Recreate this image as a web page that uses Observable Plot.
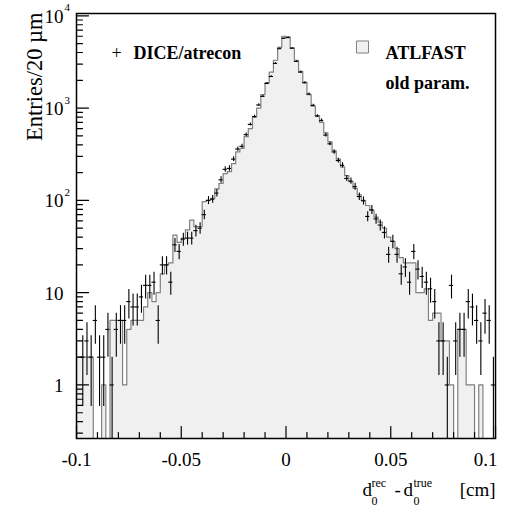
<!DOCTYPE html>
<html><head><meta charset="utf-8">
<script src="https://cdn.jsdelivr.net/npm/d3@7"></script>
<script src="https://cdn.jsdelivr.net/npm/@observablehq/plot@0.6"></script>
<style>
body{margin:0;background:#fff}
svg{font-family:"Liberation Serif","Times New Roman",serif}
</style>
</head><body><div id="chart"></div>
<script>
// ---- data ----
const binStart = -0.1;
const binWidth = 0.002; // 20 µm
// ATLFAST (old param.) histogram, entries per bin (100 bins)
const atlfast = [
  2,2,2,2,0,0,1,0,5,5,
  5,1,4,5,5,5,7,10,8,10,
  16,20,21,42,35,39,48,61,52,52,
  97,100,105,133,153,195,205,250,335,365,
  490,600,800,1000,1400,1880,2450,3300,4550,6000,
  5900,4500,3300,2500,1900,1400,1050,830,700,540,
  430,345,280,230,185,160,135,115,100,88,
  78,66,58,50,40,36,30,24,21,21,
  21,10,10,11,5,6,6,3,3,1,
  0,4,4,1,1,0,1,0,0,0
];
// DICE/atrecon data points, entries per bin
const dice = [
  0,2,3,2,5,2,2,4,1,4,
  5,5,8,7,7,9,12,12,13,5,
  20,20,13,33,28,38,39,39,47,50,
  70,100,103,120,167,217,222,280,360,385,
  515,665,810,1080,1340,1850,2200,3050,4400,5700,
  5800,4450,3200,2450,1880,1420,1070,820,735,510,
  410,335,270,240,173,162,141,110,99,67,
  79,63,54,45,26,36,26,16,19,13,
  28,18,15,13,11,8,3,3,1,12,
  3,4,4,8,7,5,3,6,5,1
];
const xMajorTicks = [-0.1, -0.05, 0, 0.05, 0.1];
const xTickLabels = ["-0.1", "-0.05", "0", "0.05", "0.1"];
const yMajorTicks = [1, 10, 100, 1000, 10000];
const yTickBase = ["1", "10", "10", "10", "10"];
const yTickExp = ["", "", "2", "3", "4"];
const legendLabels = ["DICE/atrecon", "ATLFAST", "old param."];
const yTitle = "Entries/20 µm";

// ---- derived ----
const yMin = 0.263, yMax = 10590;
const nBins = atlfast.length;
const bins = atlfast.map((n, i) => ({x0: binStart + i * binWidth, x1: binStart + (i + 1) * binWidth, n}));
const steps = [{x: binStart, y: yMin}];
bins.forEach(b => { const y = b.n > 0 ? b.n : yMin; steps.push({x: b.x0, y}, {x: b.x1, y}); });
steps.push({x: binStart + nBins * binWidth, y: yMin});
const pts = dice.map((n, i) => ({x0: binStart + i * binWidth, x1: binStart + (i + 1) * binWidth, xc: binStart + (i + 0.5) * binWidth, n})).filter(d => d.n > 0);

const yMinor = [];
for (let e = -1; e <= 3; e++) for (let m = 2; m <= 9; m++) { const v = m * Math.pow(10, e); if (v > yMin && v < yMax) yMinor.push(v); }
const xMinor = d3.range(-10, 11).map(i => i / 100).filter(v => !xMajorTicks.some(t => Math.abs(t - v) < 1e-9));

const tickShape = {draw(context, l) { context.moveTo(0, 0); context.lineTo(0, -l); }};
const yLabels = yMajorTicks.map((v, i) => ({v, base: yTickBase[i], exp: yTickExp[i]}));
// last label is pulled inside the canvas as in the original
const xLabels = xMajorTicks.map((v, i) => ({v, label: xTickLabels[i], shift: i === xMajorTicks.length - 1 ? -10 : 0}));

const chart = Plot.plot({
  width: 510, height: 518,
  marginLeft: 76, marginRight: 15, marginTop: 13, marginBottom: 80,
  x: {domain: [-0.1, 0.1], axis: null},
  y: {type: "log", domain: [yMin, yMax], axis: null},
  marks: [
    Plot.areaY(steps, {x: "x", y1: () => yMin, y2: "y", fill: "#f0f0f0", clip: true}),
    Plot.line(steps, {x: "x", y: "y", stroke: "#808080", strokeWidth: 1.2, clip: true}),
    Plot.ruleX(pts, {x: "xc", y1: d => Math.max(d.n - Math.sqrt(d.n), yMin), y2: d => d.n + Math.sqrt(d.n), stroke: "black", strokeWidth: 1.1, clip: true}),
    Plot.ruleY(pts, {y: "n", x1: "x0", x2: "x1", stroke: "black", strokeWidth: 1.1, clip: true}),
    Plot.frame({stroke: "black", strokeWidth: 1.5}),
    // y ticks (inside)
    Plot.vector(yMajorTicks, {y: d => d, frameAnchor: "left", rotate: 90, length: 12, anchor: "start", shape: tickShape, stroke: "black", strokeWidth: 1.2}),
    Plot.vector(yMinor, {y: d => d, frameAnchor: "left", rotate: 90, length: 6, anchor: "start", shape: tickShape, stroke: "black", strokeWidth: 1.2}),
    // x ticks (inside)
    Plot.vector(xMajorTicks, {x: d => d, frameAnchor: "bottom", rotate: 0, length: 12, anchor: "start", shape: tickShape, stroke: "black", strokeWidth: 1.2}),
    Plot.vector(xMinor, {x: d => d, frameAnchor: "bottom", rotate: 0, length: 6, anchor: "start", shape: tickShape, stroke: "black", strokeWidth: 1.2}),
    // y tick labels
    Plot.text(yLabels, {y: "v", frameAnchor: "left", text: "base", dx: -13, dy: 1, textAnchor: "end", fontSize: 19, fill: "black"}),
    Plot.text(yLabels, {y: "v", frameAnchor: "left", text: "exp", dx: -12, dy: -8, textAnchor: "start", fontSize: 11, fill: "black"}),
    // x tick labels
    Plot.text(xLabels.slice(0, 4), {x: "v", frameAnchor: "bottom", text: "label", dy: 27, textAnchor: "middle", fontSize: 19, fill: "black"}),
    Plot.text(xLabels.slice(4), {x: "v", frameAnchor: "bottom", text: "label", dx: -10, dy: 27, textAnchor: "middle", fontSize: 19, fill: "black"}),
    // x title
    Plot.text(["d"], {frameAnchor: "bottom-right", text: d => d, dx: -133, dy: 57, textAnchor: "start", lineAnchor: "bottom", fontSize: 19, fill: "black"}),
    Plot.text(["rec"], {frameAnchor: "bottom-right", text: d => d, dx: -124, dy: 48, textAnchor: "start", lineAnchor: "bottom", fontSize: 12, fill: "black"}),
    Plot.text(["0"], {frameAnchor: "bottom-right", text: d => d, dx: -124, dy: 66, textAnchor: "start", lineAnchor: "bottom", fontSize: 12, fill: "black"}),
    Plot.text(["-"], {frameAnchor: "bottom-right", text: d => d, dx: -101, dy: 57, textAnchor: "start", lineAnchor: "bottom", fontSize: 19, fill: "black"}),
    Plot.text(["d"], {frameAnchor: "bottom-right", text: d => d, dx: -92, dy: 57, textAnchor: "start", lineAnchor: "bottom", fontSize: 19, fill: "black"}),
    Plot.text(["true"], {frameAnchor: "bottom-right", text: d => d, dx: -82, dy: 48, textAnchor: "start", lineAnchor: "bottom", fontSize: 12, fill: "black"}),
    Plot.text(["0"], {frameAnchor: "bottom-right", text: d => d, dx: -82, dy: 66, textAnchor: "start", lineAnchor: "bottom", fontSize: 12, fill: "black"}),
    Plot.text(["[cm]"], {frameAnchor: "bottom-right", text: d => d, dx: 0, dy: 57, textAnchor: "end", lineAnchor: "bottom", fontSize: 19, fill: "black"}),
    // y title
    Plot.text([yTitle], {frameAnchor: "top-left", text: d => d, dx: -50, dy: -1, rotate: -90, textAnchor: "end", fontSize: 22.5, fill: "black"}),
    // legend
    Plot.text(["+"], {frameAnchor: "top-left", text: d => d, dx: 40, dy: 33, textAnchor: "middle", fontSize: 18, fill: "black"}),
    Plot.text([legendLabels[0]], {frameAnchor: "top-left", text: d => d, dx: 57, dy: 33, textAnchor: "start", fontSize: 18, fontWeight: "bold", fill: "black"}),
    Plot.dot([0], {frameAnchor: "top-left", dx: 286, dy: 33.5, symbol: "square", r: 6.8, fill: "#f0f0f0", stroke: "#808080", strokeWidth: 1}),
    Plot.text([legendLabels[1]], {frameAnchor: "top-left", text: d => d, dx: 309, dy: 33, textAnchor: "start", fontSize: 18, fontWeight: "bold", fill: "black"}),
    Plot.text([legendLabels[2]], {frameAnchor: "top-left", text: d => d, dx: 309, dy: 63, textAnchor: "start", fontSize: 18, fontWeight: "bold", fill: "black"})
  ]
});
document.getElementById("chart").append(chart);
</script>
</body></html>
